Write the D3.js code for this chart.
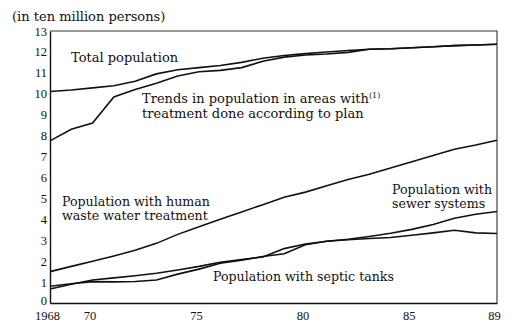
<!DOCTYPE html>
<html>
  <head>
    <meta charset="utf-8">
    <title>Population with waste water treatment</title>
    <script src="https://d3js.org/d3.v7.min.js"></script>
    <style>
      body { margin: 0; background: #fff; }
      .note { font-family: "DejaVu Serif", serif; font-size: 12.6px; fill: #111; }
      .tick text { font-family: "Liberation Serif", serif; font-size: 12.5px; fill: #111; }
    </style>
  </head>
  <body>

  <script type="text/javascript">
    // data, in ten million persons
    var years = d3.range(1968, 1990);
    var totalPop   = [10.11, 10.18, 10.28, 10.38, 10.6, 10.95, 11.15, 11.25, 11.35, 11.5, 11.7,
                      11.83, 11.92, 12.0, 12.07, 12.13, 12.15, 12.2, 12.25, 12.3, 12.33, 12.37];
    var planPop    = [7.75, 8.3, 8.6, 9.85, 10.2, 10.5, 10.85, 11.05, 11.12, 11.25, 11.55,
                      11.75, 11.85, 11.9, 11.98, 12.13, 12.15, 12.2, 12.25, 12.3, 12.33, 12.37];
    var humanWaste = [1.5, 1.75, 2.0, 2.25, 2.52, 2.85, 3.28, 3.65, 4.0, 4.35, 4.7,
                      5.05, 5.3, 5.6, 5.9, 6.15, 6.45, 6.75, 7.05, 7.35, 7.55, 7.78];
    var sewer      = [0.67, 0.9, 1.1, 1.2, 1.3, 1.42, 1.58, 1.75, 1.95, 2.08, 2.2,
                      2.6, 2.82, 2.95, 3.05, 3.18, 3.33, 3.52, 3.75, 4.05, 4.24, 4.37];
    var septic     = [0.8, 0.92, 1.02, 1.01, 1.03, 1.1, 1.38, 1.62, 1.9, 2.05, 2.22,
                      2.35, 2.78, 2.95, 3.02, 3.08, 3.13, 3.24, 3.35, 3.48, 3.35, 3.32];
    var yTicks = d3.range(0, 14);
    var xTicks = [1968, 1970, 1975, 1980, 1985, 1989];
    var xTickLabels = ['1968', '70', '75', '80', '85', '89'];

    var svg = d3.select('body')
                .append('svg')
                .attr('width', 514)
                .attr('height', 333);

    var x = d3.scaleLinear().domain([1968, 1989]).range([50, 497]);
    var y = d3.scaleLinear().domain([0, 13]).range([303, 31]);

    /* axes */
    svg.append('g')
       .attr('transform', 'translate(0,303)')
       .call(d3.axisBottom(x).tickValues(xTicks).tickSize(0).tickPadding(8)
               .tickFormat(function(d, i){ return xTickLabels[i]; }))
       .call(function(g){
         g.select('.domain').attr('stroke', '#111').attr('stroke-width', 1.4);
         g.selectAll('.tick text').attr('dx', -3);
       });

    svg.append('g')
       .attr('transform', 'translate(50,0)')
       .call(d3.axisLeft(y).tickValues(yTicks).tickSize(0).tickPadding(3))
       .call(function(g){
         g.select('.domain').attr('stroke', '#111').attr('stroke-width', 1.4);
         // lift the 0 a little so it clears 1968
         g.selectAll('.tick text').filter(function(d){ return d === 0; }).attr('dy', '0.1em');
       });

    // frame top + right
    svg.append('path')
       .attr('d', 'M' + x(1968) + ',' + y(13) + 'H' + x(1989) + 'V' + y(0))
       .attr('fill', 'none')
       .attr('stroke', '#333')
       .attr('stroke-width', 1.1);

    /* lines */
    var line = d3.line()
                 .x(function(d, i){ return x(years[i]); })
                 .y(function(d){ return y(d); });

    svg.selectAll('.series')
       .data([totalPop, planPop, humanWaste, sewer, septic])
       .enter()
       .append('path')
       .attr('class', 'series')
       .attr('d', line)
       .attr('fill', 'none')
       .attr('stroke', '#111')
       .attr('stroke-width', 1.6);

    /* labels */
    svg.append('text').attr('class', 'note')
       .attr('x', 12).attr('y', 21)
       .style('font-size', '13px')
       .text('(in ten million persons)');

    svg.append('text').attr('class', 'note')
       .attr('x', 71).attr('y', 62)
       .style('font-size', '13px')
       .text('Total population');

    var trends = svg.append('text').attr('class', 'note').attr('x', 142).attr('y', 103)
                    .style('font-size', '13px');
    trends.append('tspan').text('Trends in population in areas with');
    trends.append('tspan').attr('dy', -5).style('font-size', '8px').text('(1)');
    svg.append('text').attr('class', 'note')
       .attr('x', 142).attr('y', 118)
       .style('font-size', '13px')
       .text('treatment done according to plan');

    svg.append('text').attr('class', 'note')
       .attr('x', 62).attr('y', 206)
       .text('Population with human');
    svg.append('text').attr('class', 'note')
       .attr('x', 62).attr('y', 220)
       .text('waste water treatment');

    svg.append('text').attr('class', 'note')
       .attr('x', 392).attr('y', 194)
       .text('Population with');
    svg.append('text').attr('class', 'note')
       .attr('x', 392).attr('y', 208)
       .text('sewer systems');

    svg.append('text').attr('class', 'note')
       .attr('x', 213).attr('y', 281)
       .text('Population with septic tanks');
  </script>
  </body>
</html>
